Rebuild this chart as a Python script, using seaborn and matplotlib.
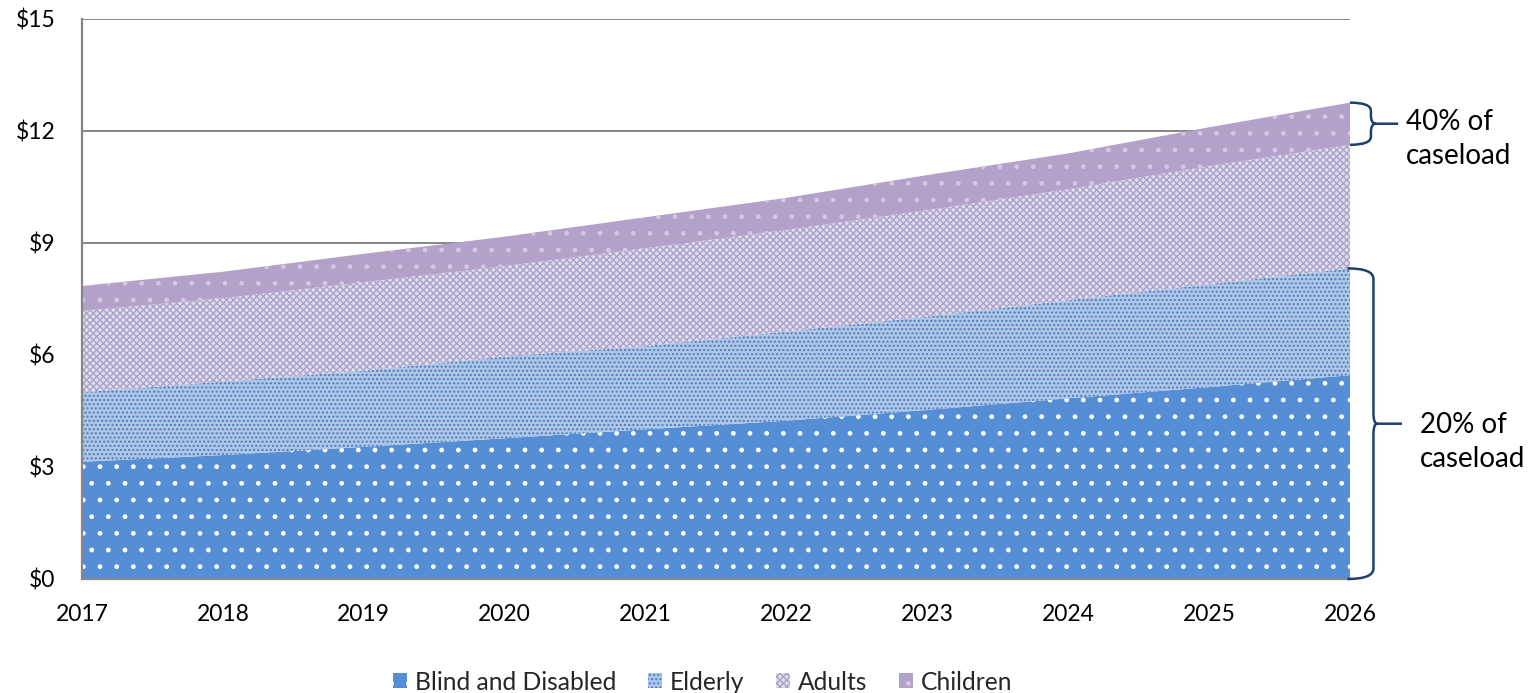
import numpy as np
import matplotlib
matplotlib.use("Agg")
import matplotlib.pyplot as plt
import matplotlib.transforms as mtransforms
from matplotlib.path import Path
from matplotlib.patches import PathPatch, Patch
import seaborn as sns

# Annual spending (billions of dollars) by eligibility group
years = [2017, 2018, 2019, 2020, 2021, 2022, 2023, 2024, 2025, 2026]
blind_disabled = [3.14, 3.32, 3.54, 3.77, 4.01, 4.24, 4.53, 4.84, 5.14, 5.46]
elderly = [1.86, 1.97, 2.04, 2.19, 2.23, 2.39, 2.50, 2.63, 2.76, 2.86]
adults = [2.18, 2.23, 2.37, 2.42, 2.62, 2.72, 2.85, 2.97, 3.16, 3.31]
children = [0.67, 0.71, 0.76, 0.79, 0.83, 0.86, 0.94, 0.96, 1.04, 1.13]

group_names = ["Blind and Disabled", "Elderly", "Adults", "Children"]
y_ticks = [0, 3, 6, 9, 12, 15]
y_tick_labels = ["$0", "$3", "$6", "$9", "$12", "$15"]
note_top = "40% of\ncaseload"
note_bottom = "20% of\ncaseload"

sns.set_theme(style="white")
plt.rcParams["font.family"] = ["Lato", "DejaVu Sans"]
plt.rcParams["hatch.linewidth"] = 1.0

GRID = "#868686"
BRACE = "#1F3F6E"
styles = [
    dict(facecolor="#558ED5", edgecolor="#FFFFFF", hatch="."),
    dict(facecolor="#AFC6E6", edgecolor="#4A7CC0", hatch="...."),
    dict(facecolor="#DAE0EF", edgecolor="#B09FC6", hatch="xxxxx"),
    dict(facecolor="#B2A1C8", edgecolor="#D3C8E4", hatch="."),
]

fig = plt.figure(figsize=(15.32, 6.93), dpi=100)
ax = fig.add_axes([82 / 1532, 1 - 579 / 693, 1268 / 1532, 560 / 693])

x = np.array(years, dtype=float)
series = [np.array(s) for s in (blind_disabled, elderly, adults, children)]
base = np.zeros_like(x)
tops = []
for vals, st in zip(series, styles):
    top = base + vals
    ax.fill_between(x, base, top, linewidth=0, zorder=2, **st)
    tops.append(top)
    base = top

ax.set_xlim(years[0], years[-1])
ax.set_ylim(0, 15)
ax.set_xticks(years)
ax.set_xticklabels([str(y) for y in years])
ax.set_yticks(y_ticks)
ax.set_yticklabels(y_tick_labels)
ax.tick_params(axis="both", length=0, labelsize=16.5, colors="black")
ax.tick_params(axis="x", pad=18)
ax.tick_params(axis="y", pad=19)
ax.grid(False)
for yv in y_ticks[1:]:
    ax.axhline(yv, color=GRID, linewidth=1.4, zorder=1)
for side in ("top", "right"):
    ax.spines[side].set_visible(False)
for side in ("left", "bottom"):
    ax.spines[side].set_color(GRID)
    ax.spines[side].set_linewidth(1.6)
    ax.spines[side].set_zorder(3)

# Curly braces at the right edge: x in axes fraction, y in data units
trans = mtransforms.blended_transform_factory(ax.transAxes, ax.transData)


def brace(y_top, y_bot, x0, x1, x2, x3, r):
    y_mid = (y_top + y_bot) / 2
    verts = [
        (x0, y_top), (x1, y_top), (x1, y_top - r),
        (x1, y_mid + r), (x1, y_mid), (x2, y_mid),
        (x1, y_mid), (x1, y_mid - r),
        (x1, y_bot + r), (x1, y_bot), (x0, y_bot),
        (x2, y_mid), (x3, y_mid),
    ]
    codes = [
        Path.MOVETO, Path.CURVE3, Path.CURVE3,
        Path.LINETO, Path.CURVE3, Path.CURVE3,
        Path.CURVE3, Path.CURVE3,
        Path.LINETO, Path.CURVE3, Path.CURVE3,
        Path.MOVETO, Path.LINETO,
    ]
    ax.add_patch(PathPatch(Path(verts, codes), transform=trans, facecolor="none",
                           edgecolor=BRACE, linewidth=1.8, clip_on=False, zorder=4))


brace(tops[3][-1], tops[2][-1], 1.0, 1.0165, 1.0205, 1.038, 0.22)
brace(tops[1][-1], 0.0, 0.998, 1.0185, 1.0215, 1.041, 0.28)

ax.text(1.044, 11.78, note_top, transform=trans, fontsize=20, ha="left",
        va="center", linespacing=1.38, color="black")
ax.text(1.0555, 3.66, note_bottom, transform=trans, fontsize=20, ha="left",
        va="center", linespacing=1.38, color="black")

handles = [Patch(linewidth=0, **st) for st in styles]
fig.legend(handles, group_names, loc="center", bbox_to_anchor=(703 / 1532, 1 - 682 / 693),
           ncol=4, frameon=False, fontsize=17.7, handlelength=0.55, handleheight=0.55,
           handletextpad=0.33, columnspacing=1.3)

fig.savefig("out.png", dpi=100)
